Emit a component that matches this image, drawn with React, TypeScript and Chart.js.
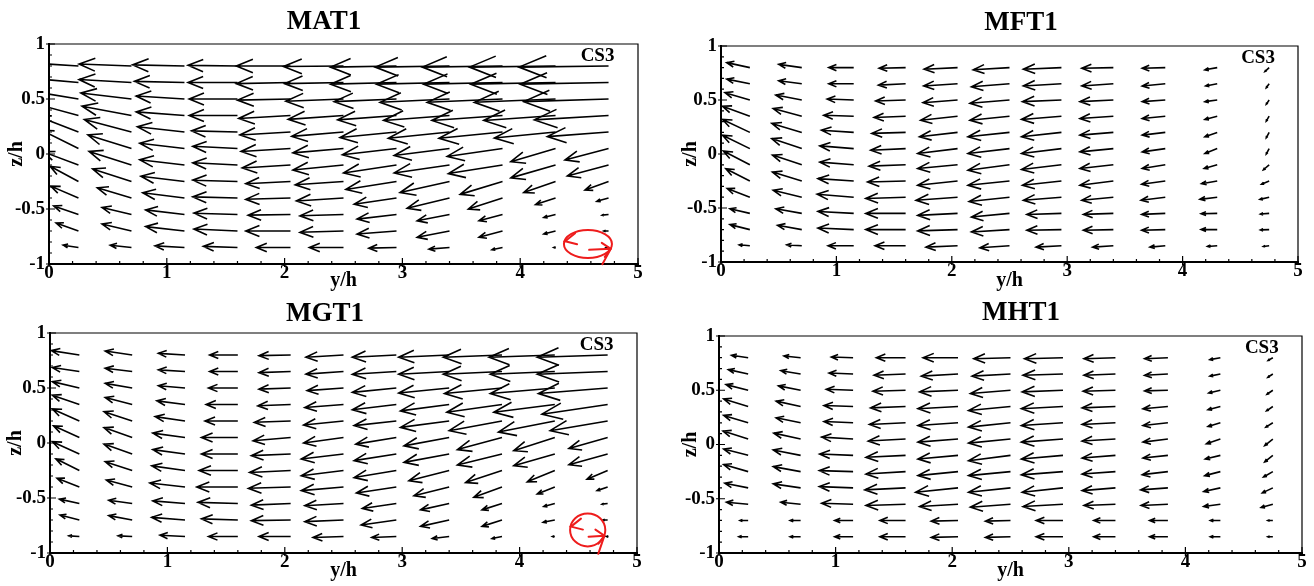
import React, { useEffect, useRef } from 'react';
import { Chart, registerables } from 'chart.js';

Chart.register(...registerables);

const SERIF = '"Liberation Serif", "Times New Roman", serif';

// grid of vector tails
const COLS = [0.25, 0.7, 1.15, 1.6, 2.05, 2.5, 2.95, 3.4, 3.85, 4.3, 4.75];
const ROWS = [0.8, 0.65, 0.5, 0.35, 0.2, 0.05, -0.1, -0.25, -0.4, -0.55, -0.7, -0.85];
const LABEL_TEXT = 'CS3';
const LABEL_POS = [4.8, 0.89];

// ---- MAT1 ----
const MAT1_U = [
  [-0.40, -0.445, -0.44, -0.42, -0.46, -0.51, -0.56, -0.63, -0.68, -0.73, -0.76],
  [-0.40, -0.445, -0.425, -0.42, -0.46, -0.50, -0.56, -0.62, -0.67, -0.72, -0.75],
  [-0.40, -0.43, -0.41, -0.41, -0.45, -0.49, -0.53, -0.59, -0.64, -0.69, -0.72],
  [-0.38, -0.42, -0.41, -0.41, -0.44, -0.47, -0.50, -0.56, -0.60, -0.61, -0.63],
  [-0.35, -0.40, -0.40, -0.39, -0.43, -0.44, -0.48, -0.52, -0.54, -0.52, -0.52],
  [-0.32, -0.37, -0.38, -0.38, -0.42, -0.43, -0.46, -0.47, -0.47, -0.38, -0.37],
  [-0.30, -0.36, -0.38, -0.38, -0.41, -0.43, -0.45, -0.47, -0.46, -0.38, -0.35],
  [-0.24, -0.33, -0.37, -0.38, -0.38, -0.41, -0.43, -0.42, -0.36, -0.27, -0.20],
  [-0.235, -0.29, -0.355, -0.38, -0.38, -0.40, -0.36, -0.36, -0.29, -0.17, -0.10],
  [-0.21, -0.25, -0.33, -0.37, -0.36, -0.37, -0.335, -0.275, -0.20, -0.10, -0.055],
  [-0.19, -0.25, -0.33, -0.37, -0.38, -0.37, -0.335, -0.275, -0.20, -0.10, -0.04],
  [-0.13, -0.18, -0.25, -0.29, -0.29, -0.29, -0.235, -0.175, -0.09, -0.015, -0.02],
];
const MAT1_V = [
  [0.028, 0.018, 0.01, 0.006, 0, -0.005, -0.01, -0.01, -0.01, -0.01, -0.01],
  [0.038, 0.027, 0.01, 0, -0.01, -0.01, -0.015, -0.015, -0.015, -0.015, -0.015],
  [0.071, 0.054, 0.027, 0, -0.01, -0.02, -0.024, -0.03, -0.03, -0.03, -0.024],
  [0.11, 0.084, 0.033, 0, -0.027, -0.035, -0.04, -0.045, -0.045, -0.045, -0.04],
  [0.145, 0.114, 0.048, 0.01, -0.027, -0.04, -0.05, -0.057, -0.057, -0.055, -0.042],
  [0.17, 0.123, 0.048, 0.02, -0.027, -0.04, -0.057, -0.063, -0.072, -0.12, -0.105],
  [0.12, 0.123, 0.048, 0.02, -0.027, -0.045, -0.072, -0.072, -0.078, -0.117, -0.10],
  [0.138, 0.114, 0.048, 0.012, -0.02, -0.03, -0.072, -0.10, -0.117, -0.10, -0.078],
  [0.108, 0.093, 0.048, 0.01, -0.012, -0.027, -0.057, -0.093, -0.10, -0.06, -0.03],
  [0.078, 0.063, 0.042, 0.012, -0.006, -0.012, -0.042, -0.057, -0.057, -0.027, -0.006],
  [0.072, 0.063, 0.04, 0.018, 0, -0.012, -0.027, -0.057, -0.057, -0.027, 0],
  [0.021, 0.021, 0.015, 0.01, 0, 0, -0.006, -0.015, -0.02, 0, 0],
];
const MAT1_LOOP = [4.575, -0.818, 0.204, 0.127];

// ---- MFT1 ----
const MFT1_U = [
  [-0.20, -0.20, -0.216, -0.23, -0.29, -0.315, -0.33, -0.274, -0.20, -0.107, -0.037],
  [-0.20, -0.20, -0.216, -0.236, -0.294, -0.33, -0.33, -0.274, -0.20, -0.10, -0.025],
  [-0.216, -0.225, -0.23, -0.26, -0.30, -0.343, -0.338, -0.29, -0.20, -0.107, -0.025],
  [-0.237, -0.248, -0.26, -0.274, -0.32, -0.343, -0.346, -0.29, -0.20, -0.107, -0.025],
  [-0.237, -0.26, -0.28, -0.294, -0.33, -0.36, -0.346, -0.29, -0.20, -0.107, -0.025],
  [-0.237, -0.26, -0.294, -0.303, -0.346, -0.36, -0.346, -0.29, -0.20, -0.107, -0.025],
  [-0.23, -0.254, -0.294, -0.317, -0.346, -0.36, -0.346, -0.29, -0.20, -0.113, -0.05],
  [-0.208, -0.254, -0.31, -0.33, -0.346, -0.36, -0.338, -0.29, -0.205, -0.136, -0.066],
  [-0.196, -0.248, -0.317, -0.346, -0.36, -0.35, -0.33, -0.274, -0.21, -0.15, -0.08],
  [-0.173, -0.225, -0.31, -0.346, -0.346, -0.33, -0.30, -0.26, -0.205, -0.14, -0.075],
  [-0.173, -0.21, -0.31, -0.346, -0.346, -0.33, -0.30, -0.26, -0.205, -0.14, -0.075],
  [-0.092, -0.13, -0.222, -0.265, -0.274, -0.257, -0.22, -0.18, -0.133, -0.084, -0.05],
];
const MFT1_V = [
  [0.046, 0.03, 0, -0.006, -0.015, -0.02, -0.015, -0.006, -0.006, -0.02, -0.037],
  [0.043, 0.028, 0, -0.012, -0.02, -0.028, -0.02, -0.02, -0.02, -0.02, -0.037],
  [0.068, 0.046, 0.009, -0.009, -0.025, -0.03, -0.015, -0.015, -0.015, -0.015, -0.04],
  [0.093, 0.071, 0.009, -0.012, -0.037, -0.037, -0.03, -0.022, -0.022, -0.03, -0.046],
  [0.12, 0.083, 0.02, -0.009, -0.04, -0.04, -0.04, -0.025, -0.025, -0.04, -0.05],
  [0.124, 0.093, 0.025, -0.015, -0.046, -0.046, -0.046, -0.03, -0.03, -0.046, -0.05],
  [0.127, 0.09, 0.025, -0.012, -0.034, -0.05, -0.043, -0.034, -0.034, -0.034, -0.046],
  [0.114, 0.083, 0.022, -0.009, -0.04, -0.04, -0.04, -0.04, -0.03, -0.025, -0.03],
  [0.08, 0.065, 0.028, -0.012, -0.028, -0.04, -0.028, -0.028, -0.028, -0.02, -0.02],
  [0.043, 0.043, 0.018, 0, -0.018, -0.034, -0.01, -0.009, -0.009, -0.003, -0.006],
  [0.046, 0.04, 0.015, 0, -0.012, -0.022, -0.006, -0.006, -0.006, 0, -0.003],
  [0.009, 0.009, 0, 0, -0.012, -0.018, -0.012, -0.012, -0.012, -0.006, -0.006],
];

// ---- MGT1 ----
const MGT1_U = [
  [-0.24, -0.23, -0.227, -0.24, -0.27, -0.32, -0.375, -0.43, -0.50, -0.56, -0.60],
  [-0.23, -0.23, -0.227, -0.24, -0.27, -0.32, -0.375, -0.43, -0.50, -0.55, -0.60],
  [-0.23, -0.23, -0.227, -0.25, -0.27, -0.31, -0.375, -0.43, -0.49, -0.55, -0.59],
  [-0.23, -0.23, -0.24, -0.27, -0.28, -0.33, -0.375, -0.415, -0.47, -0.52, -0.56],
  [-0.23, -0.24, -0.255, -0.28, -0.31, -0.34, -0.36, -0.415, -0.45, -0.48, -0.49],
  [-0.22, -0.24, -0.275, -0.31, -0.32, -0.34, -0.346, -0.385, -0.38, -0.35, -0.33],
  [-0.23, -0.24, -0.275, -0.31, -0.335, -0.36, -0.36, -0.385, -0.38, -0.35, -0.33],
  [-0.20, -0.23, -0.284, -0.33, -0.35, -0.36, -0.36, -0.343, -0.31, -0.235, -0.176],
  [-0.19, -0.22, -0.30, -0.35, -0.36, -0.36, -0.34, -0.30, -0.24, -0.15, -0.09],
  [-0.17, -0.20, -0.275, -0.34, -0.335, -0.33, -0.29, -0.244, -0.17, -0.094, -0.048],
  [-0.165, -0.20, -0.284, -0.31, -0.335, -0.33, -0.30, -0.244, -0.17, -0.10, -0.04],
  [-0.09, -0.12, -0.213, -0.25, -0.27, -0.26, -0.21, -0.144, -0.085, -0.02, -0.01],
];
const MGT1_V = [
  [0.04, 0.036, 0.015, 0, -0.006, -0.02, -0.02, -0.02, -0.02, -0.02, -0.02],
  [0.036, 0.03, 0.015, 0, -0.01, -0.024, -0.025, -0.025, -0.025, -0.025, -0.025],
  [0.058, 0.042, 0.02, 0, -0.01, -0.024, -0.04, -0.045, -0.05, -0.05, -0.05],
  [0.085, 0.064, 0.033, 0, -0.012, -0.027, -0.048, -0.058, -0.07, -0.07, -0.088],
  [0.11, 0.085, 0.04, 0, -0.012, -0.036, -0.042, -0.058, -0.088, -0.10, -0.088],
  [0.106, 0.09, 0.04, 0, -0.03, -0.05, -0.06, -0.076, -0.11, -0.12, -0.10],
  [0.112, 0.09, 0.04, 0, -0.015, -0.045, -0.06, -0.076, -0.10, -0.106, -0.097],
  [0.106, 0.08, 0.042, 0, -0.018, -0.048, -0.064, -0.094, -0.11, -0.103, -0.079],
  [0.08, 0.064, 0.036, 0, -0.012, -0.033, -0.055, -0.079, -0.094, -0.064, -0.033],
  [0.04, 0.03, 0.024, 0.01, -0.015, -0.02, -0.045, -0.058, -0.058, -0.027, -0.006],
  [0.045, 0.04, 0.024, 0.01, -0.006, -0.015, -0.045, -0.058, -0.058, -0.021, 0],
  [0.006, 0.006, 0.012, 0, 0, -0.009, -0.009, -0.018, -0.018, 0, 0],
];
const MGT1_LOOP = [4.58, -0.79, 0.15, 0.15];

// ---- MHT1 ----
const MHT1_U = [
  [-0.143, -0.143, -0.186, -0.25, -0.30, -0.315, -0.33, -0.27, -0.20, -0.09, -0.04],
  [-0.17, -0.17, -0.206, -0.27, -0.315, -0.33, -0.343, -0.27, -0.20, -0.09, -0.043],
  [-0.19, -0.19, -0.23, -0.28, -0.33, -0.344, -0.35, -0.277, -0.20, -0.10, -0.05],
  [-0.21, -0.21, -0.25, -0.30, -0.344, -0.36, -0.357, -0.286, -0.214, -0.106, -0.054],
  [-0.21, -0.21, -0.25, -0.31, -0.344, -0.36, -0.357, -0.286, -0.214, -0.106, -0.06],
  [-0.215, -0.23, -0.27, -0.32, -0.344, -0.36, -0.357, -0.286, -0.214, -0.12, -0.07],
  [-0.21, -0.235, -0.287, -0.34, -0.344, -0.36, -0.357, -0.286, -0.214, -0.13, -0.07],
  [-0.21, -0.235, -0.29, -0.34, -0.344, -0.36, -0.357, -0.286, -0.22, -0.134, -0.08],
  [-0.20, -0.235, -0.29, -0.35, -0.364, -0.36, -0.35, -0.286, -0.234, -0.143, -0.09],
  [-0.186, -0.17, -0.27, -0.34, -0.33, -0.344, -0.343, -0.27, -0.23, -0.143, -0.10],
  [-0.07, -0.09, -0.158, -0.22, -0.23, -0.215, -0.23, -0.186, -0.157, -0.086, -0.043],
  [-0.08, -0.09, -0.158, -0.22, -0.23, -0.215, -0.23, -0.186, -0.157, -0.086, -0.043],
];
const MHT1_V = [
  [0.022, 0.015, 0.006, 0, 0, -0.009, -0.009, -0.009, -0.009, -0.018, -0.025],
  [0.04, 0.03, 0.009, -0.012, -0.02, -0.02, -0.012, -0.012, -0.012, -0.02, -0.03],
  [0.052, 0.04, 0.009, -0.009, -0.015, -0.03, -0.015, -0.009, -0.006, -0.025, -0.037],
  [0.07, 0.05, 0.009, -0.012, -0.02, -0.037, -0.02, -0.012, -0.02, -0.03, -0.04],
  [0.068, 0.046, 0.012, -0.015, -0.025, -0.04, -0.025, -0.015, -0.025, -0.034, -0.04],
  [0.074, 0.055, 0.018, -0.018, -0.028, -0.037, -0.028, -0.018, -0.028, -0.043, -0.06],
  [0.058, 0.05, 0.012, -0.018, -0.034, -0.05, -0.034, -0.025, -0.025, -0.034, -0.06],
  [0.065, 0.046, 0.009, -0.022, -0.037, -0.037, -0.03, -0.022, -0.028, -0.037, -0.05],
  [0.043, 0.037, 0.012, -0.018, -0.04, -0.04, -0.04, -0.025, -0.018, -0.034, -0.046],
  [0.018, 0.018, 0.009, -0.012, -0.022, -0.028, -0.022, -0.012, -0.012, -0.022, -0.03],
  [0, 0, 0, 0, -0.006, -0.006, 0, 0, 0, 0, 0],
  [0, 0, 0, 0, -0.006, -0.006, 0, 0, 0, 0, 0],
];

type PanelCfg = {
  title: string;
  u: number[][];
  v: number[][];
  loop: number[] | null;
  left: number; top: number; width: number; height: number;
  padL: number; padR: number; padT: number;
  wy: number; hx: number; ytPad: number; xtPad: number;
  titleX: number; titleY: number;
};

const PANELS: PanelCfg[] = [
  { title: 'MAT1', u: MAT1_U, v: MAT1_V, loop: MAT1_LOOP, left: 0, top: 0, width: 660, height: 293,
    padL: 4, padR: 22, padT: 44, wy: 45, hx: 29, ytPad: 2.5, xtPad: 2, titleX: 324, titleY: 20.5 },
  { title: 'MFT1', u: MFT1_U, v: MFT1_V, loop: null, left: 660, top: 0, width: 654, height: 293,
    padL: 18, padR: 16, padT: 46, wy: 43, hx: 31, ytPad: 3, xtPad: 2, titleX: 1021, titleY: 22 },
  { title: 'MGT1', u: MGT1_U, v: MGT1_V, loop: MGT1_LOOP, left: 0, top: 293, width: 660, height: 293,
    padL: 4, padR: 23, padT: 40, wy: 46, hx: 33, ytPad: 2, xtPad: 5, titleX: 325, titleY: 312.5 },
  { title: 'MHT1', u: MHT1_U, v: MHT1_V, loop: null, left: 660, top: 293, width: 654, height: 293,
    padL: 18, padR: 12, padT: 43, wy: 41, hx: 33, ytPad: 3, xtPad: 5, titleX: 1021, titleY: 312 },
];

function drawArrow(ctx: CanvasRenderingContext2D, x0: number, y0: number, x1: number, y1: number) {
  const dx = x1 - x0;
  const dy = y1 - y0;
  const L = Math.hypot(dx, dy);
  if (L < 0.5) return;
  const ang = Math.atan2(dy, dx);
  const h = Math.max(2, 0.33 * L);
  const a = (22 * Math.PI) / 180;
  ctx.beginPath();
  ctx.moveTo(x0, y0);
  ctx.lineTo(x1, y1);
  ctx.moveTo(x1 - h * Math.cos(ang - a), y1 - h * Math.sin(ang - a));
  ctx.lineTo(x1, y1);
  ctx.lineTo(x1 - h * Math.cos(ang + a), y1 - h * Math.sin(ang + a));
  ctx.stroke();
}

function makePlugin(p: PanelCfg) {
  return {
    id: 'quiver_' + p.title,
    afterDatasetsDraw(chart: any) {
      const ctx: CanvasRenderingContext2D = chart.ctx;
      const area = chart.chartArea;
      const xs = chart.scales.x;
      const ys = chart.scales.y;
      const meta = chart.getDatasetMeta(0);
      const raw = chart.data.datasets[0].data as any[];

      // vectors
      ctx.save();
      ctx.beginPath();
      ctx.rect(area.left, area.top, area.right - area.left, area.bottom - area.top);
      ctx.clip();
      ctx.strokeStyle = '#000';
      ctx.lineWidth = 1.6;
      ctx.lineCap = 'butt';
      ctx.lineJoin = 'miter';
      meta.data.forEach((el: any, i: number) => {
        const d = raw[i];
        const hx = xs.getPixelForValue(d.x + d.u);
        const hy = ys.getPixelForValue(d.y + d.v);
        drawArrow(ctx, el.x, el.y, hx, hy);
      });
      ctx.restore();

      // frame
      ctx.save();
      ctx.strokeStyle = '#000';
      ctx.lineWidth = 1.2;
      ctx.beginPath();
      ctx.moveTo(area.left, area.top);
      ctx.lineTo(area.right, area.top);
      ctx.lineTo(area.right, area.bottom);
      ctx.stroke();
      ctx.lineWidth = 2;
      ctx.beginPath();
      ctx.moveTo(area.left, area.top - 1);
      ctx.lineTo(area.left, area.bottom);
      ctx.lineTo(area.right + 1, area.bottom);
      ctx.stroke();

      // ticks
      ctx.lineWidth = 1.2;
      ctx.beginPath();
      for (let k = 0; k <= 25; k++) {
        const px = xs.getPixelForValue(k * 0.2);
        const major = k % 5 === 0;
        ctx.moveTo(px, area.bottom - (major ? 6 : 3));
        ctx.lineTo(px, area.bottom + (major ? 3 : 1));
      }
      for (let k = 0; k <= 20; k++) {
        const py = ys.getPixelForValue(-1 + k * 0.1);
        const major = k % 5 === 0;
        ctx.moveTo(area.left - (major ? 3 : 1), py);
        ctx.lineTo(area.left + (major ? 6 : 3), py);
      }
      ctx.stroke();

      // CS3 label
      ctx.fillStyle = '#000';
      ctx.font = `bold 19px ${SERIF}`;
      ctx.textAlign = 'right';
      ctx.textBaseline = 'middle';
      ctx.fillText(LABEL_TEXT, xs.getPixelForValue(LABEL_POS[0]), ys.getPixelForValue(LABEL_POS[1]));

      // red loop annotation
      if (p.loop) {
        const cx = xs.getPixelForValue(p.loop[0]);
        const cy = ys.getPixelForValue(p.loop[1]);
        const rx = Math.abs(xs.getPixelForValue(p.loop[0] + p.loop[2]) - cx);
        const ry = Math.abs(ys.getPixelForValue(p.loop[1] + p.loop[3]) - cy);
        ctx.strokeStyle = '#ee1c1c';
        ctx.lineWidth = 2;
        ctx.lineCap = 'round';
        ctx.beginPath();
        ctx.ellipse(cx, cy, rx, ry, 0, 0, Math.PI * 2);
        ctx.stroke();
        const lx = cx - rx * 0.95;
        const ly = cy - ry * 0.2;
        ctx.beginPath();
        ctx.moveTo(lx + 10, ly - 8);
        ctx.lineTo(lx, ly);
        ctx.lineTo(lx + 12, ly + 3);
        ctx.stroke();
        const tx = cx + rx * 0.95;
        const ty = cy + ry * 0.35;
        ctx.beginPath();
        ctx.moveTo(cx + rx * 0.05, ty + 1);
        ctx.lineTo(tx, ty);
        ctx.moveTo(tx - 9, ty - 6);
        ctx.lineTo(tx, ty);
        ctx.lineTo(tx - 6, ty + 8);
        ctx.stroke();
        ctx.beginPath();
        ctx.moveTo(tx, ty);
        ctx.lineTo(tx - rx * 0.35, cy + ry * 1.45);
        ctx.stroke();
      }
      ctx.restore();
    },
  };
}

function Panel({ p }: { p: PanelCfg }) {
  const ref = useRef<HTMLCanvasElement>(null);
  useEffect(() => {
    if (!ref.current) return;
    const points: any[] = [];
    ROWS.forEach((z, i) => {
      COLS.forEach((y, j) => {
        points.push({ x: y, y: z, u: p.u[i][j], v: p.v[i][j] });
      });
    });
    const tickFont = { family: SERIF, size: 19, weight: 'bold' as const, lineHeight: 1 };
    const titleFont = { family: SERIF, size: 20, weight: 'bold' as const, lineHeight: 1 };
    const chart = new Chart(ref.current, {
      type: 'scatter',
      data: {
        datasets: [
          {
            data: points,
            pointRadius: 0,
            pointHoverRadius: 0,
            showLine: false,
          } as any,
        ],
      },
      options: {
        animation: false,
        responsive: false,
        maintainAspectRatio: false,
        events: [],
        layout: { padding: { left: p.padL, right: p.padR, top: p.padT, bottom: 0 } },
        plugins: {
          legend: { display: false },
          tooltip: { enabled: false },
          title: { display: false },
        },
        scales: {
          x: {
            type: 'linear',
            min: 0,
            max: 5,
            grid: { display: false, drawTicks: false },
            border: { display: false },
            ticks: {
              stepSize: 1,
              padding: 0,
              maxRotation: 0,
              autoSkip: false,
              color: '#000',
              font: tickFont,
              callback: (v: any) => String(Number(v)),
            },
            title: {
              display: true,
              text: 'y/h',
              color: '#000',
              font: titleFont,
              padding: { top: 0, bottom: p.xtPad },
            },
            afterFit: (s: any) => {
              s.height = p.hx;
              s.paddingLeft = 0;
              s.paddingRight = 0;
            },
          },
          y: {
            type: 'linear',
            min: -1,
            max: 1,
            grid: { display: false, drawTicks: false },
            border: { display: false },
            ticks: {
              stepSize: 0.5,
              padding: 4,
              autoSkip: false,
              color: '#000',
              font: tickFont,
              callback: (v: any) => String(Math.round(Number(v) * 10) / 10),
            },
            title: {
              display: true,
              text: 'z/h',
              color: '#000',
              font: titleFont,
              padding: { top: p.ytPad, bottom: 0 },
            },
            afterFit: (s: any) => {
              s.width = p.wy;
              s.paddingTop = 0;
              s.paddingBottom = 0;
            },
          },
        },
      } as any,
      plugins: [makePlugin(p)],
    });
    return () => chart.destroy();
  }, [p]);
  return (
    <canvas
      ref={ref}
      width={p.width}
      height={p.height}
      style={{ position: 'absolute', left: p.left, top: p.top, width: p.width, height: p.height, display: 'block' }}
    />
  );
}

export default function App() {
  return (
    <div style={{ position: 'absolute', left: 0, top: 0, width: 1314, height: 586, background: '#fff', overflow: 'hidden' }}>
      {PANELS.map((p) => (
        <Panel key={p.title} p={p} />
      ))}
      {PANELS.map((p) => (
        <div
          key={'t' + p.title}
          style={{
            position: 'absolute',
            left: p.titleX,
            top: p.titleY - 13.7,
            transform: 'translateX(-50%)',
            fontFamily: SERIF,
            fontWeight: 'bold',
            fontSize: 27,
            lineHeight: '27px',
            whiteSpace: 'nowrap',
            color: '#000',
          }}
        >
          {p.title}
        </div>
      ))}
    </div>
  );
}
